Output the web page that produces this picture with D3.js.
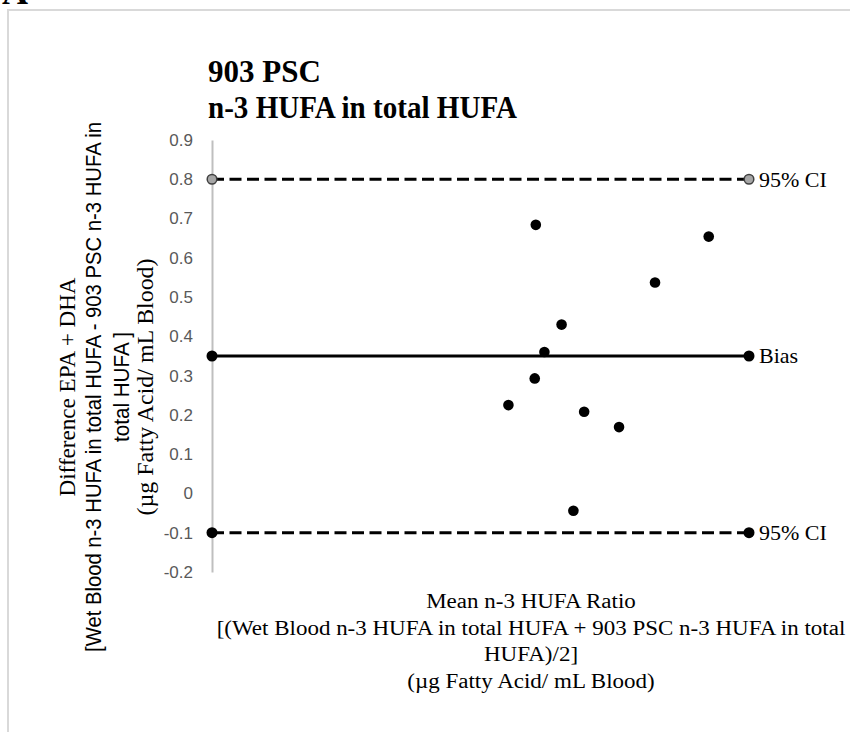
<!DOCTYPE html>
<html>
<head>
<meta charset="utf-8">
<script src="https://cdn.jsdelivr.net/npm/d3@7"></script>
<style>
  body { margin: 0; background: #fff; }
  svg { display: block; }
</style>
</head>
<body>
<div id="chart"></div>
<script>
// values
var meanX = [0.603, 0.925, 0.825, 0.651, 0.619, 0.601, 0.552, 0.693, 0.758, 0.673];
var diffY = [0.684, 0.654, 0.537, 0.430, 0.360, 0.293, 0.225, 0.208, 0.169, -0.044];
var refNames = ["95% CI", "Bias", "95% CI"];
var refValues = [0.8, 0.35, -0.1];
var yTicks = [-0.2, -0.1, 0, 0.1, 0.2, 0.3, 0.4, 0.5, 0.6, 0.7, 0.8, 0.9];
var titleLines = ["903 PSC", "n-3 HUFA in total HUFA"];
var xTitleLines = ["Mean n-3 HUFA Ratio",
  "[(Wet Blood n-3 HUFA in total HUFA + 903 PSC n-3 HUFA in total",
  "HUFA)/2]",
  "(\u00b5g Fatty Acid/ mL Blood)"];

window.onload = () => {
  var W = 850, H = 732;
  var serif = "'Liberation Serif', 'Times New Roman', serif",
    sans = "'Liberation Sans', Arial, sans-serif";

  var svg = d3.select("#chart").append("svg")
    .attr("width", W)
    .attr("height", H);

  // panel letter, mostly cut off at the top
  svg.append("text")
    .attr("x", 2).attr("y", 4)
    .attr("font-family", serif).attr("font-weight", "bold")
    .attr("font-size", 36)
    .text("A");

  // chart frame
  svg.append("rect")
    .attr("x", 8).attr("y", 10)
    .attr("width", 900).attr("height", 800)
    .attr("fill", "none")
    .attr("stroke", "#d9d9d9")
    .attr("stroke-width", 2);

  var x = d3.scaleLinear().domain([0, 1]).range([212, 749]);
  var y = d3.scaleLinear().domain([-0.2, 0.9]).range([572, 140]);

  // y axis
  var yAxis = d3.axisLeft(y)
    .tickValues(yTicks)
    .tickSize(0)
    .tickPadding(19)
    .tickFormat(d => d === 0 ? "0" : d.toFixed(1));
  var ga = svg.append("g")
    .attr("transform", "translate(" + x(0) + ",0)")
    .call(yAxis);
  ga.select(".domain").attr("stroke", "#bfbfbf").attr("stroke-width", 2);
  ga.selectAll("text")
    .attr("font-family", sans)
    .attr("font-size", 17)
    .attr("fill", "#595959");

  // bias and limits of agreement
  var refs = refNames.map((n, i) => ({ name: n, v: refValues[i], dashed: n !== "Bias" }));
  svg.selectAll("line.ref").data(refs).enter().append("line")
    .attr("class", "ref")
    .attr("x1", x(0)).attr("x2", x(1))
    .attr("y1", d => y(d.v)).attr("y2", d => y(d.v))
    .attr("stroke", "#000")
    .attr("stroke-width", 3)
    .attr("stroke-dasharray", d => d.dashed ? "12,5.5" : null);

  refs.forEach((d, i) => {
    var upper = i === 0;
    svg.selectAll(null).data([0, 1]).enter().append("circle")
      .attr("cx", e => x(e))
      .attr("cy", y(d.v))
      .attr("r", upper ? 4.8 : 5.5)
      .attr("fill", upper ? "#a6a6a6" : "#000")
      .attr("stroke", upper ? "#404040" : "none")
      .attr("stroke-width", 1.5);
  });

  svg.selectAll("text.ref").data(refs).enter().append("text")
    .attr("class", "ref")
    .attr("x", x(1) + 10)
    .attr("y", d => y(d.v))
    .attr("dy", "0.33em")
    .attr("font-family", serif)
    .attr("font-size", 22)
    .text(d => d.name);

  // points
  svg.selectAll("circle.pt").data(meanX).enter().append("circle")
    .attr("class", "pt")
    .attr("cx", d => x(d))
    .attr("cy", (d, i) => y(diffY[i]))
    .attr("r", 5.3)
    .attr("fill", "#000");

  // title
  svg.selectAll("text.title").data(titleLines).enter().append("text")
    .attr("class", "title")
    .attr("x", 208)
    .attr("y", (d, i) => 82 + i * 36)
    .attr("font-family", serif)
    .attr("font-weight", "bold")
    .attr("font-size", 31)
    .attr("textLength", (d, i) => i === 1 ? 309 : null)
    .attr("lengthAdjust", "spacingAndGlyphs")
    .text(d => d);

  // x axis title (text in the source is slightly squat)
  svg.selectAll("text.xt").data(xTitleLines).enter().append("text")
    .attr("class", "xt")
    .attr("transform", (d, i) => "translate(531," + (608 + i * 26.7) + ") scale(1,0.87)")
    .attr("text-anchor", "middle")
    .attr("font-family", serif)
    .attr("font-size", 23)
    .text(d => d);

  // y axis title (mixed fonts, like the source)
  var yt = [
    { t: "Difference EPA + DHA", f: serif, s: 24, x: 75, len: 219 },
    { t: "[Wet Blood n-3 HUFA in total HUFA - 903 PSC n-3 HUFA in", f: sans, s: 22, x: 101, len: 530 },
    { t: "total HUFA ]", f: sans, s: 22, x: 129, len: 110 },
    { t: "(\u00b5g Fatty Acid/ mL Blood)", f: serif, s: 24, x: 153, len: 257 }
  ];
  svg.selectAll("text.yt").data(yt).enter().append("text")
    .attr("class", "yt")
    .attr("transform", d => "translate(" + d.x + ",387) rotate(-90)")
    .attr("text-anchor", "middle")
    .attr("font-family", d => d.f)
    .attr("font-size", d => d.s)
    .attr("textLength", d => d.len)
    .attr("lengthAdjust", "spacingAndGlyphs")
    .text(d => d.t);
};
</script>
</body>
</html>
